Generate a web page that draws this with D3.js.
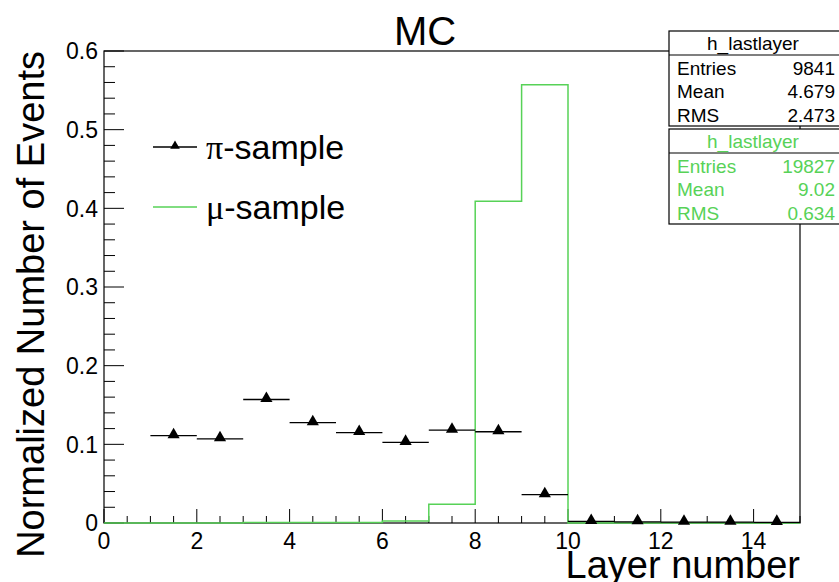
<!DOCTYPE html>
<html lang="en">
<head>
<meta charset="utf-8">
<title>MC last layer</title>
<script src="https://cdn.jsdelivr.net/npm/d3@7"></script>
<style>
  body { margin: 0; background: #fff; }
  text { font-family: "Liberation Sans", Arial, Helvetica, sans-serif; }
</style>
</head>
<body>
<script>
// bin edges 0..15, one bin per layer
var binEdges = d3.range(0, 16);
// pi-sample: bins 1..14 (bin 0 empty)
var piCenters = [1.5, 2.5, 3.5, 4.5, 5.5, 6.5, 7.5, 8.5, 9.5, 10.5, 11.5, 12.5, 13.5, 14.5];
var piValues = [0.111, 0.107, 0.157, 0.1275, 0.115, 0.1025, 0.118, 0.116, 0.036, 0.002, 0.0015, 0.001, 0.001, 0.0008];
// mu-sample histogram, bins 0..14
var muValues = [0, 0, 0, 0.0006, 0.0006, 0.0006, 0.0025, 0.0237, 0.409, 0.557, 0, 0, 0, 0, 0];
var xTicks = [0, 2, 4, 6, 8, 10, 12, 14];
var yTicks = [0, 0.1, 0.2, 0.3, 0.4, 0.5, 0.6];
var legendNames = [["\u03c0", "-sample"], ["\u03bc", "-sample"]];
var stats = [
  { name: "h_lastlayer", rows: [["Entries", "9841"], ["Mean", "4.679"], ["RMS", "2.473"]], color: "#000" },
  { name: "h_lastlayer", rows: [["Entries", "19827"], ["Mean", "9.02"], ["RMS", "0.634"]], color: "#57d257" }
];

var W = 839, H = 582;
var pLeft = 104, pRight = 800, pTop = 51, pBottom = 523;
var green = "#57d257";

var svg = d3.select("body").append("svg").attr("width", W).attr("height", H);

var x = d3.scaleLinear().domain([0, 15]).range([pLeft, pRight]);
var y = d3.scaleLinear().domain([0, 0.6]).range([pBottom, pTop]);

// frame
svg.append("rect").attr("x", pLeft).attr("y", pTop)
  .attr("width", pRight - pLeft).attr("height", pBottom - pTop)
  .attr("fill", "none").attr("stroke", "#000").attr("stroke-width", 1.2);

// y ticks (major 0.1, minor 0.02)
var yMinor = d3.range(0, 0.6001, 0.02);
svg.append("g").selectAll("line").data(yMinor).enter().append("line")
  .attr("x1", pLeft).attr("x2", function(d, i) { return i % 5 == 0 ? pLeft + 20 : pLeft + 11; })
  .attr("y1", function(d) { return y(d); }).attr("y2", function(d) { return y(d); })
  .attr("stroke", "#000").attr("stroke-width", 1);
svg.append("g").selectAll("text").data(yTicks).enter().append("text")
  .attr("x", pLeft - 6).attr("y", function(d) { return y(d); })
  .attr("dy", "0.36em").attr("text-anchor", "end").attr("font-size", 23)
  .text(function(d) { return d === 0 ? "0" : d3.format(".1f")(d); });

// x ticks (major 2, minor 0.5)
var xMinor = d3.range(0, 15.001, 0.5);
svg.append("g").selectAll("line").data(xMinor).enter().append("line")
  .attr("x1", function(d) { return x(d); }).attr("x2", function(d) { return x(d); })
  .attr("y1", pBottom).attr("y2", function(d, i) { return i % 4 == 0 ? pBottom - 14 : pBottom - 7; })
  .attr("stroke", "#000").attr("stroke-width", 1);
svg.append("g").selectAll("text").data(xTicks).enter().append("text")
  .attr("x", function(d) { return x(d); }).attr("y", pBottom + 26)
  .attr("text-anchor", "middle").attr("font-size", 23)
  .text(function(d) { return d; });

// mu histogram (step line)
var muPts = [];
muValues.forEach(function(v, i) {
  muPts.push([binEdges[i], v]);
  muPts.push([binEdges[i + 1], v]);
});
svg.append("path").datum(muPts)
  .attr("d", d3.line().x(function(d) { return x(d[0]); }).y(function(d) { return y(d[1]); }))
  .attr("fill", "none").attr("stroke", green).attr("stroke-width", 1.5);

// pi points with x error bars
var piData = piCenters.map(function(c, i) { return { c: c, v: piValues[i] }; });
svg.append("g").selectAll("line").data(piData).enter().append("line")
  .attr("x1", function(d) { return x(d.c - 0.5); }).attr("x2", function(d) { return x(d.c + 0.5); })
  .attr("y1", function(d) { return y(d.v); }).attr("y2", function(d) { return y(d.v); })
  .attr("stroke", "#000").attr("stroke-width", 1.3);
var tri = d3.symbol().type(d3.symbolTriangle).size(64);
svg.append("g").selectAll("path").data(piData).enter().append("path")
  .attr("d", tri)
  .attr("transform", function(d) { return "translate(" + x(d.c) + "," + (y(d.v) - 1) + ")"; })
  .attr("fill", "#000");

// legend
var triSmall = d3.symbol().type(d3.symbolTriangle).size(40);
svg.append("line").attr("x1", 153).attr("x2", 197).attr("y1", 147).attr("y2", 147)
  .attr("stroke", "#000").attr("stroke-width", 1.3);
svg.append("path").attr("d", triSmall).attr("transform", "translate(175,146)").attr("fill", "#000");
svg.append("line").attr("x1", 153).attr("x2", 197).attr("y1", 207).attr("y2", 207)
  .attr("stroke", green).attr("stroke-width", 1.5);
legendNames.forEach(function(n, i) {
  var t = svg.append("text").attr("x", 206).attr("y", 147 + i * 60).attr("dy", "0.36em")
    .attr("font-size", 34);
  t.append("tspan").attr("font-family", "'Liberation Serif', 'DejaVu Serif', serif").text(n[0]);
  t.append("tspan").text(n[1]);
});

// stats boxes
var boxTops = [31, 129];
stats.forEach(function(s, k) {
  var bx = 669, by = boxTops[k], bw = 175, bh = 95;
  var g = svg.append("g");
  g.append("rect").attr("x", bx).attr("y", by).attr("width", bw).attr("height", bh)
    .attr("fill", "#fff").attr("stroke", "#000").attr("stroke-width", 1.2);
  g.append("line").attr("x1", bx).attr("x2", bx + bw).attr("y1", by + 24).attr("y2", by + 24)
    .attr("stroke", "#000").attr("stroke-width", 1.2);
  g.append("text").attr("x", 753).attr("y", by + 12).attr("dy", "0.36em")
    .attr("text-anchor", "middle").attr("font-size", 19).attr("fill", s.color).text(s.name);
  s.rows.forEach(function(r, i) {
    var ry = by + 37 + i * 23.5;
    g.append("text").attr("x", 677).attr("y", ry).attr("dy", "0.36em")
      .attr("font-size", 19).attr("fill", s.color).text(r[0]);
    g.append("text").attr("x", 835).attr("y", ry).attr("dy", "0.36em")
      .attr("text-anchor", "end").attr("font-size", 19).attr("fill", s.color).text(r[1]);
  });
});

// titles
svg.append("text").attr("x", 425).attr("y", 31).attr("dy", "0.36em")
  .attr("text-anchor", "middle").attr("font-size", 40).text("MC");
svg.append("text").attr("x", pRight).attr("y", 578)
  .attr("text-anchor", "end").attr("font-size", 38).text("Layer number");
svg.append("text").attr("transform", "translate(44," + pTop + ") rotate(-90)")
  .attr("text-anchor", "end").attr("font-size", 38).text("Normalized Number of Events");
</script>
</body>
</html>
